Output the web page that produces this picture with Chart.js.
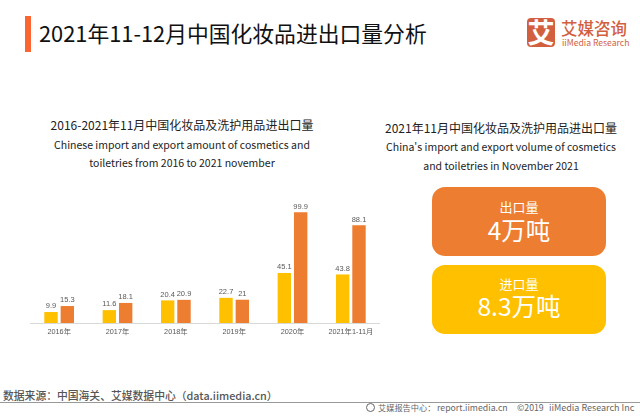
<!DOCTYPE html>
<html lang="zh">
<head>
<meta charset="utf-8">
<title>2021年11-12月中国化妆品进出口量分析</title>
<script src="https://cdn.jsdelivr.net/npm/chart.js@4"></script>
<style>
  html, body { margin: 0; padding: 0; background: #fff; }
  body { width: 640px; height: 416px; position: relative; overflow: hidden; font-family: "Noto Sans CJK SC", "Noto Sans", sans-serif; color: #222; }
  .abs { position: absolute; white-space: nowrap; }
  .center { text-align: center; }
  #bar { left: 25px; top: 16px; width: 6px; height: 36px; background: #fb6532; }
  #title { left: 39px; top: 15px; font-size: 21.8px; line-height: 36px; color: #111; }
  #logoBox { left: 527px; top: 18px; width: 28px; height: 29px; background: #d2603f; border-radius: 4px; color: #fff; font-size: 27px; font-weight: 700; line-height: 28px; text-align: center; }
  #logoCn { left: 561px; top: 16px; font-size: 16.5px; line-height: 24px; color: #d2603f; font-weight: 500; }
  #logoEn { left: 562px; top: 35px; font-size: 8.6px; line-height: 14px; color: #d2603f; }
  .sub { font-size: 10.5px; line-height: 22px; color: #222; }
  .subCn { font-size: 12px; line-height: 22px; color: #222; }
  .card { left: 432px; width: 174px; height: 69px; border-radius: 13px; color: #fff; text-align: center; }
  .card .k { display: block; font-size: 13px; line-height: 18px; margin-top: 11px; }
  .card .v { display: block; font-size: 24.5px; line-height: 27px; }
  #chartWrap { position: absolute; left: 30px; top: 190px; width: 350px; height: 159px; }
  #source { left: 3px; top: 387px; font-size: 10.8px; line-height: 16px; color: #555; font-weight: 500; }
  #rule { left: 0; top: 402px; width: 640px; height: 1px; background: #999; }
  #footIcon { left: 366px; top: 403px; width: 7px; height: 7px; border: 1px solid #666; border-radius: 50%; }
  .foot { top: 400px; line-height: 15px; color: #666; font-size: 8.75px; }
</style>
</head>
<body>
<div class="abs" id="bar"></div>
<div class="abs" id="title">2021年11-12月中国化妆品进出口量分析</div>
<div class="abs" id="logoBox">艾</div>
<div class="abs" id="logoCn">艾媒咨询</div>
<div class="abs" id="logoEn">iiMedia Research</div>

<div class="abs center subCn" style="left:22px;width:320px;top:114px">2016-2021年11月中国化妆品及洗护用品进出口量</div>
<div class="abs center sub" style="left:22px;width:320px;top:134px">Chinese import and export amount of cosmetics and</div>
<div class="abs center sub" style="left:22px;width:320px;top:152px">toiletries from 2016 to 2021 november</div>

<div class="abs center subCn" style="left:341px;width:320px;top:117px">2021年11月中国化妆品及洗护用品进出口量</div>
<div class="abs center sub" style="left:341px;width:320px;top:136px">China's import and export volume of cosmetics</div>
<div class="abs center sub" style="left:341px;width:320px;top:155px">and toiletries in November 2021</div>

<div class="abs card" style="top:187px;background:#ed7d31"><span class="k">出口量</span><span class="v">4万吨</span></div>
<div class="abs card" style="top:265px;background:#ffc000"><span class="k" style="margin-top:10px">进口量</span><span class="v" style="line-height:26px">8.3万吨</span></div>

<div id="chartWrap"><canvas id="chart"></canvas></div>

<div class="abs" id="source">数据来源：中国海关、艾媒数据中心（data.iimedia.cn）</div>
<div class="abs" id="rule"></div>
<div class="abs" id="footIcon"></div>
<div class="abs foot" style="left:378px;font-size:8.2px">艾媒报告中心：</div>
<div class="abs foot" style="left:437px">report.iimedia.cn</div>
<div class="abs foot" style="left:517px">©2019</div>
<div class="abs foot" style="left:549px;font-size:9px">iiMedia Research Inc</div>

<script>
const categories = ['2016年', '2017年', '2018年', '2019年', '2020年', '2021年1-11月'];
const importValues = [9.9, 11.6, 20.4, 22.7, 45.1, 43.8];
const exportValues = [15.3, 18.1, 20.9, 21, 99.9, 88.1];

// small value labels above each bar
const barLabels = {
	id: 'barLabels',
	afterDatasetsDraw(chart) {
		const { ctx } = chart;
		ctx.save();
		ctx.font = '7.5px "Liberation Sans", sans-serif';
		ctx.fillStyle = '#595959';
		ctx.textAlign = 'center';
		ctx.textBaseline = 'bottom';
		chart.data.datasets.forEach((ds, i) => {
			chart.getDatasetMeta(i).data.forEach((bar, j) => {
				ctx.fillText(String(ds.data[j]), bar.x, bar.y - 2);
			});
		});
		ctx.restore();
	}
};

new Chart(document.getElementById('chart'), {
	type: 'bar',
	data: {
		labels: categories,
		datasets: [
			{ label: '进口量', data: importValues, backgroundColor: '#ffc000' },
			{ label: '出口量', data: exportValues, backgroundColor: '#ed7d31' }
		]
	},
	options: {
		responsive: true,
		maintainAspectRatio: false,
		animation: false,
		devicePixelRatio: 1,
		layout: { padding: 0 },
		datasets: { bar: { categoryPercentage: 0.56, barPercentage: 0.82 } },
		plugins: { legend: { display: false }, tooltip: { enabled: false } },
		scales: {
			x: {
				afterFit: (scale) => { scale.height = 26; },
				grid: { display: false, drawTicks: false },
				border: { color: '#d9d9d9' },
				ticks: { color: '#595959', font: { size: 7.3, family: '"Liberation Sans", "Noto Sans CJK SC", sans-serif' }, padding: 5, maxRotation: 0, autoSkip: false }
			},
			y: { display: false, min: 0, max: 120 }
		}
	},
	plugins: [barLabels]
});
</script>
</body>
</html>
